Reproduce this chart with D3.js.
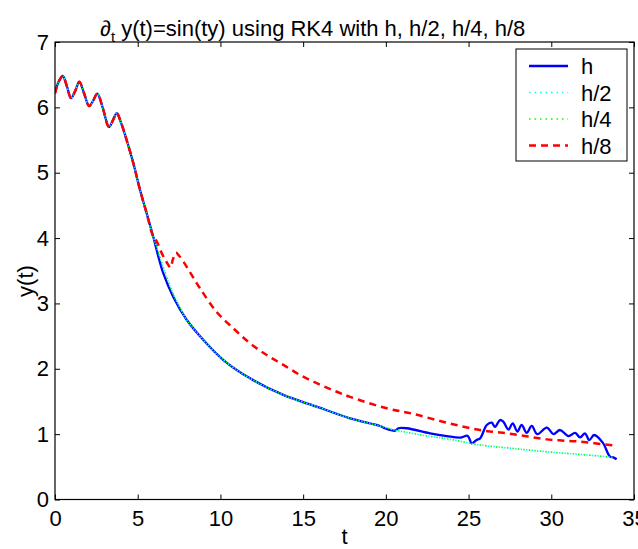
<!DOCTYPE html>
<html><head><meta charset="utf-8">
<script src="https://cdn.jsdelivr.net/npm/d3@7"></script>
<style>body{margin:0;background:#fff} text{font-family:"Liberation Sans",Arial,Helvetica,sans-serif;fill:#000}</style>
</head><body><svg id="c" width="638" height="549"></svg>
<script>
const xTicks = [0,5,10,15,20,25,30,35];
const yTicks = [0,1,2,3,4,5,6,7];
const seriesNames = ["h","h/2","h/4","h/8"];

// common start (all step sizes agree)
const tStart = [0,0.2,0.47,0.72,0.97,1.22,1.47,1.75,2.06,2.3,2.56,2.9,3.26,3.5,3.73,4.0,4.33,4.74,5.14,5.54,5.94];
const yStart = [6.215,6.38,6.48,6.32,6.14,6.25,6.39,6.22,6.02,6.10,6.21,5.98,5.70,5.80,5.91,5.76,5.50,5.14,4.735,4.38,4.02];

// h
const tH = [6.25,6.55,7.15,7.96,8.97,10.18,11.79,13.80,15.82,17.84,19.65,19.95,20.56,20.76,21.26,22.67,23.68,24.49,24.93,25.05,25.19,25.49,25.70,26.10,26.40,26.60,26.90,27.10,27.41,27.67,27.95,28.21,28.51,28.82,29.15,29.73,30.13,30.53,31.04,31.44,31.74,32.04,32.30,32.59,33.11,33.55,33.75,33.95];
const yH = [3.715,3.46,3.10,2.75,2.44,2.134,1.854,1.60,1.42,1.242,1.125,1.09,1.053,1.09,1.09,1.013,0.97,0.946,0.976,0.93,0.86,0.91,0.936,1.14,1.175,1.11,1.216,1.19,1.07,1.166,1.04,1.14,1.02,1.125,1.00,1.10,1.00,1.063,0.97,1.02,0.95,1.013,0.91,0.987,0.87,0.655,0.645,0.615];

// h/2
const tH2 = [6.25,6.55,6.85,7.15,7.6,7.96,8.97,10.18,11.79,13.80,15.82,17.84,19.65,20.56,20.88,22.67,23.68,25.70,27.71,29.73,31.74,33.75];
const yH2 = [3.78,3.54,3.33,3.14,2.91,2.75,2.44,2.134,1.854,1.60,1.42,1.242,1.125,1.06,1.045,0.965,0.93,0.834,0.78,0.73,0.69,0.645];

// h/4
const tH4 = [6.25,6.55,6.85,7.15,7.6,7.96,8.97,10.18,11.79,13.80,15.82,17.84,19.65,20.56,20.88,22.67,23.68,25.70,27.71,29.73,31.74,33.75];
const yH4 = [3.79,3.55,3.34,3.14,2.91,2.75,2.44,2.134,1.854,1.60,1.42,1.242,1.125,1.06,1.045,0.965,0.93,0.834,0.78,0.73,0.69,0.645];

// h/8
const tH8 = [6.15,6.45,6.75,6.99,7.12,7.31,7.5,7.76,8.25,8.77,9.77,10.78,11.79,12.80,13.80,14.81,15.82,16.83,17.84,20.05,21.66,23.68,25.70,27.71,29.73,31.74,33.86];
const yH8 = [3.95,3.77,3.63,3.55,3.67,3.776,3.73,3.64,3.44,3.23,2.87,2.62,2.39,2.21,2.06,1.905,1.78,1.67,1.57,1.395,1.31,1.175,1.063,1.00,0.92,0.885,0.823];

const W=638,H=549, L=55, R=634, T=42, B=499.5;
const svg = d3.select("#c");
const x = d3.scaleLinear().domain([0,35]).range([L,R]);
const y = d3.scaleLinear().domain([0,7]).range([B,T]);

const mk = (ts,ys)=> tStart.map((t,i)=>[t,yStart[i]]).concat(ts.map((t,i)=>[t,ys[i]]));
const line = d3.line().x(d=>x(d[0])).y(d=>y(d[1])).curve(d3.curveCatmullRom.alpha(0.5));

svg.append("clipPath").attr("id","pc").append("rect").attr("x",L).attr("y",T).attr("width",R-L).attr("height",B-T);
const g = svg.append("g").attr("clip-path","url(#pc)");

const styles = [
  {d:mk(tH,yH), c:"#0000ff", w:2.3, dash:null, off:0},
  {d:mk(tH2,yH2), c:"#00ffff", w:1.6, dash:"1.5,4", off:0},
  {d:mk(tH4,yH4), c:"#00ff00", w:1.6, dash:"1.5,4", off:2.7},
  {d:mk(tH8,yH8), c:"#ff0000", w:2.5, dash:"7,5", off:0}
];
styles.forEach(s=>{
  g.append("path").attr("d",line(s.d)).attr("fill","none").attr("stroke",s.c)
   .attr("stroke-width",s.w).attr("stroke-dasharray",s.dash).attr("stroke-dashoffset",s.off);
});

// axes
const fs = "22px";
const ax = svg.append("g").attr("transform",`translate(0,${B})`)
  .call(d3.axisBottom(x).tickValues(xTicks).tickSize(-5).tickSizeOuter(0).tickPadding(11).tickFormat(d3.format("d")));
const ay = svg.append("g").attr("transform",`translate(${L},0)`)
  .call(d3.axisLeft(y).tickValues(yTicks).tickSize(-5).tickSizeOuter(0).tickPadding(6).tickFormat(d3.format("d")));
const at = svg.append("g").attr("transform",`translate(0,${T})`)
  .call(d3.axisTop(x).tickValues(xTicks).tickSize(-5).tickSizeOuter(0).tickFormat(""));
const ar = svg.append("g").attr("transform",`translate(${R},0)`)
  .call(d3.axisRight(y).tickValues(yTicks).tickSize(-5).tickSizeOuter(0).tickFormat(""));
[ax,ay,at,ar].forEach(a=>{
  a.selectAll("path.domain").remove();
  a.selectAll("line").attr("stroke","#000");
  a.selectAll("text").style("font-size",fs).attr("fill","#000").style("font-family",'"Liberation Sans",Arial,sans-serif');
});
svg.append("rect").attr("x",L).attr("y",T).attr("width",R-L).attr("height",B-T)
  .attr("fill","none").attr("stroke","#000").attr("stroke-width",1.2);

// labels
svg.append("text").attr("x",(L+R)/2).attr("y",544).attr("text-anchor","middle").style("font-size",fs).text("t");
svg.append("text").attr("transform","translate(33,281) rotate(-90)").attr("text-anchor","middle").style("font-size",fs).text("y(t)");

const title = svg.append("text").attr("x",100).attr("y",36).style("font-size","22px");
title.append("tspan").text("\u2202");
title.append("tspan").attr("dy",6).style("font-size","15px").text("t");
title.append("tspan").attr("dy",-6).text(" y(t)=sin(ty) using RK4 with h, h/2, h/4, h/8");

// legend
const lg = svg.append("g");
lg.append("rect").attr("x",516).attr("y",49).attr("width",111).attr("height",112).attr("fill","#fff").attr("stroke","#000").attr("stroke-width",1);
const ly = [66,92.5,119,145.5];
styles.forEach((s,i)=>{
  lg.append("line").attr("x1",529).attr("x2",568).attr("y1",ly[i]).attr("y2",ly[i])
    .attr("stroke",s.c).attr("stroke-width",s.w).attr("stroke-dasharray",s.dash);
  lg.append("text").attr("x",581).attr("y",ly[i]+8).style("font-size",fs).text(seriesNames[i]);
});
</script></body></html>
